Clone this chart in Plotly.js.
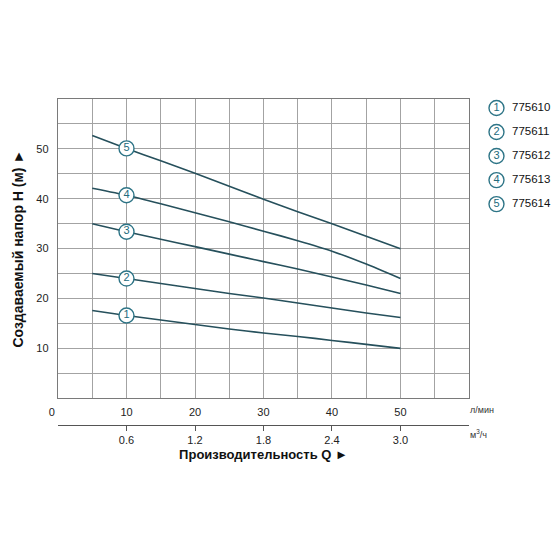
<!DOCTYPE html>
<html>
<head>
<meta charset="utf-8">
<script src="https://cdn.plot.ly/plotly-3.0.1.min.js"></script>
<style>html,body{margin:0;padding:0;background:#fff;}#chart{width:560px;height:560px;}</style>
</head>
<body>
<div id="chart"></div>
<script>
// ---- data ----
const flowLpm = [5, 10, 15, 20, 25, 30, 35, 40, 45, 50];
const head1 = [17.6, 16.6, 15.7, 14.8, 13.9, 13.1, 12.4, 11.6, 10.8, 10.0];
const head2 = [25.0, 24.0, 23.0, 22.0, 21.0, 20.1, 19.1, 18.1, 17.1, 16.2];
const head3 = [35.0, 33.4, 31.9, 30.4, 28.9, 27.4, 25.9, 24.3, 22.7, 21.0];
const head4 = [42.1, 40.7, 39.0, 37.2, 35.4, 33.5, 31.6, 29.5, 26.9, 24.0];
const head5 = [52.7, 50.1, 47.6, 45.1, 42.5, 39.9, 37.4, 35.0, 32.5, 30.0];
const curveNumbers = ['1', '2', '3', '4', '5'];
const modelCodes = ['775610', '775611', '775612', '775613', '775614'];
const lpmTicks = [0, 10, 20, 30, 40, 50];
const m3hTicks = [0.6, 1.2, 1.8, 2.4, 3.0];
const headTicks = [10, 20, 30, 40, 50];
const labelAtFlow = 10;

// ---- style ----
const lineColor = '#26505c';
const circleColor = '#2d7486';
const numColor = '#236b7c';
const gridColor = '#a3a3a3';
const fontFam = 'Liberation Sans, Arial, sans-serif';

const heads = [head1, head2, head3, head4, head5];
const traces = [];
heads.forEach((h, i) => {
  traces.push({
    x: flowLpm, y: h, mode: 'lines', type: 'scatter',
    line: {color: lineColor, width: 1.6, shape: 'spline', smoothing: 0.5},
    hoverinfo: 'skip', showlegend: false
  });
});
// circle labels on curves
const lblY = heads.map(h => h[flowLpm.indexOf(labelAtFlow)]);
traces.push({
  x: heads.map(() => labelAtFlow), y: lblY, text: curveNumbers,
  mode: 'markers+text', type: 'scatter', textposition: 'middle center',
  marker: {size: 15, color: '#ffffff', line: {color: circleColor, width: 1.4}},
  textfont: {family: fontFam, size: 11, color: numColor},
  hoverinfo: 'skip', showlegend: false
});
// legend (on its own hidden axes)
const legIdx = curveNumbers.map((_, i) => i);
traces.push({
  x: curveNumbers.map(() => 1.5), y: legIdx, text: curveNumbers,
  xaxis: 'x2', yaxis: 'y2',
  mode: 'markers+text', type: 'scatter', textposition: 'middle center',
  marker: {size: 15, color: '#ffffff', line: {color: circleColor, width: 1.4}},
  textfont: {family: fontFam, size: 11, color: numColor},
  hoverinfo: 'skip', showlegend: false
});
traces.push({
  x: curveNumbers.map(() => 17), y: legIdx, text: modelCodes,
  xaxis: 'x2', yaxis: 'y2',
  mode: 'text', type: 'scatter', textposition: 'middle right',
  textfont: {family: fontFam, size: 11.5, color: '#111'},
  hoverinfo: 'skip', showlegend: false
});
// invisible trace for the m3/h axis
traces.push({
  x: m3hTicks, y: m3hTicks.map(() => null), xaxis: 'x3', yaxis: 'y',
  mode: 'markers', type: 'scatter', marker: {opacity: 0},
  hoverinfo: 'skip', showlegend: false
});

const gridVals = [];
for (let v = 0; v <= 60; v += 5) gridVals.push(v);

const layout = {
  width: 560, height: 560,
  margin: {l: 58, r: 0, t: 99, b: 90},
  paper_bgcolor: '#ffffff', plot_bgcolor: '#ffffff',
  font: {family: fontFam, size: 11, color: '#222'},
  hovermode: false,
  xaxis: {
    domain: [0, 0.8187], range: [0, 60],
    tickvals: gridVals,
    ticktext: gridVals.map(v => lpmTicks.indexOf(v) >= 0 ? (v === 0 ? '0\u00a0\u00a0\u00a0\u00a0' : String(v)) : ''),
    ticks: '', showgrid: true, gridcolor: gridColor, gridwidth: 1,
    zeroline: false, showline: true, linecolor: '#7a7a7a', linewidth: 1.2, mirror: true,
    tickfont: {size: 11, color: '#222'}, ticklabelstandoff: 3
  },
  yaxis: {
    domain: [0.1933, 1], range: [0, 60],
    tickvals: gridVals,
    ticktext: gridVals.map(v => headTicks.indexOf(v) >= 0 ? String(v) : ''),
    ticks: '', showgrid: true, gridcolor: gridColor, gridwidth: 1,
    zeroline: false, showline: true, linecolor: '#7a7a7a', linewidth: 1.2, mirror: true,
    tickfont: {size: 11, color: '#222'}, ticklabelstandoff: 6,
    title: {text: '<b>Создаваемый напор H (м) ►</b>', font: {size: 14, color: '#111'}, standoff: 9}
  },
  xaxis3: {
    overlaying: 'x', anchor: 'free', position: 0.1213, side: 'bottom',
    range: [0, 3.6], tickvals: m3hTicks, ticktext: m3hTicks.map(v => v.toFixed(1)),
    showgrid: false, zeroline: false, showline: true, linecolor: '#555', linewidth: 1.2,
    ticks: 'outside', ticklen: 5, tickcolor: '#555', tickwidth: 1,
    tickfont: {size: 11, color: '#222'}, ticklabelstandoff: 0,
    title: {text: '<b>Производительность Q ►</b>', font: {size: 13, color: '#111'}, standoff: 4}
  },
  xaxis2: {domain: [0.8187, 1], range: [-26, 65], visible: false, fixedrange: true},
  yaxis2: {domain: [0.1933, 1], range: [12.083, -0.375], visible: false, anchor: 'x2', fixedrange: true},
  annotations: [
    {xref: 'paper', yref: 'paper', x: 1.0, y: 0.1933 - 0.032, text: 'л/мин', showarrow: false,
     xanchor: 'left', yanchor: 'middle', xshift: -92, font: {size: 9, color: '#333'}},
    {xref: 'paper', yref: 'paper', x: 1.0, y: 0.1213 - 0.025, text: 'м<sup>3</sup>/ч', showarrow: false,
     xanchor: 'left', yanchor: 'middle', xshift: -92, font: {size: 9, color: '#333'}}
  ]
};

Plotly.newPlot('chart', traces, layout, {staticPlot: true, displayModeBar: false});
</script>
</body>
</html>
